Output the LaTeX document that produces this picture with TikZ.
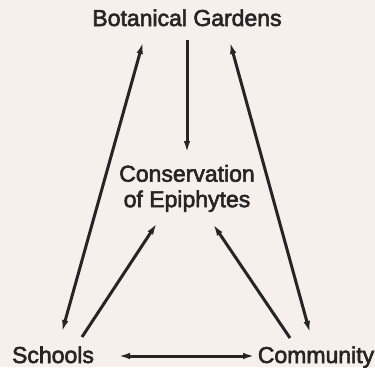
\documentclass[tikz,border=0pt]{standalone}
\usepackage{fontspec}
\setmainfont{Liberation Sans}
\newfontfamily\labelfont{Liberation Sans}[FakeBold=2.5]
\usepackage{tikz}
\usetikzlibrary{arrows.meta}
\definecolor{paper}{HTML}{F6EFEC}
\definecolor{ink}{HTML}{262424}
\tikzset{
  linkarrow/.style={-{Latex[length=12pt,width=6.5pt]}, line width=3pt, ink},
  botharrow/.style={{Latex[length=12pt,width=6.5pt]}-{Latex[length=12pt,width=6.5pt]}, line width=3pt, ink},
  place/.style={inner sep=0pt, outer sep=0pt, text=ink, align=center, font=\labelfont\fontsize{23}{25.5}\selectfont}
}
\begin{document}
\begin{tikzpicture}[x=1pt, y=-1pt]
  \fill[paper] (0,0) rectangle (375,367);
  \node[place, anchor=base] (bg) at (187,26) {Botanical Gardens};
  \node[place, anchor=north] (cons) at (187,165) {Conservation\\of Epiphytes};
  \node[place, anchor=base] (sch) at (53,363) {Schools};
  \node[place, anchor=base] (com) at (316,363) {Community};
  \draw[linkarrow] ([shift={(0,14)}]bg.base) -- ([shift={(0,-12)}]cons.north);
  \draw[botharrow] ([shift={(9,-31)}]sch.base) -- ([shift={(-44,16)}]bg.base);
  \draw[botharrow] ([shift={(-6,-30)}]com.base) -- ([shift={(43,16)}]bg.base);
  \draw[linkarrow] ([shift={(29,-26)}]sch.base) -- ([shift={(-30,58)}]cons.north);
  \draw[linkarrow] ([shift={(-26,-25)}]com.base) -- ([shift={(26,59)}]cons.north);
  \draw[botharrow] ([shift={(65,-7)}]sch.base) -- ([shift={(-61,-7)}]com.base);
\end{tikzpicture}
\end{document}
